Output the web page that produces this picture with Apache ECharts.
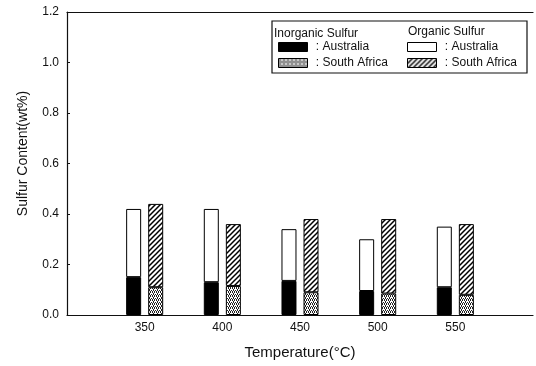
<!DOCTYPE html>
<html>
<head>
<meta charset="utf-8">
<script src="https://cdn.jsdelivr.net/npm/echarts@6/dist/echarts.min.js"></script>
<style>html,body{margin:0;padding:0;background:#fff}#c{width:536px;height:366px}</style>
</head>
<body>
<div id="c"></div>
<script>
// Data
const temperatures = ['350', '400', '450', '500', '550'];
const axisEnds = ['300', '600'];
const yTickLabels = ['0.0', '0.2', '0.4', '0.6', '0.8', '1.0', '1.2'];
const ausInorganic = [0.15, 0.13, 0.135, 0.095, 0.11];
const ausOrganic = [0.27, 0.29, 0.205, 0.205, 0.24];
const saInorganic = [0.11, 0.115, 0.09, 0.085, 0.08];
const saOrganic = [0.33, 0.245, 0.29, 0.295, 0.28];

function makePattern(kind) {
  const c = document.createElement('canvas');
  if (kind === 'hatch') {
    c.width = 5; c.height = 5;
    const g = c.getContext('2d');
    g.fillStyle = '#fff'; g.fillRect(0, 0, 5, 5);
    g.strokeStyle = '#000'; g.lineWidth = 1.5;
    g.beginPath();
    g.moveTo(-1, 6); g.lineTo(6, -1);
    g.moveTo(-1, 1); g.lineTo(1, -1);
    g.moveTo(4, 6); g.lineTo(6, 4);
    g.stroke();
  } else {
    c.width = 4; c.height = 4;
    const g = c.getContext('2d');
    g.fillStyle = '#fff'; g.fillRect(0, 0, 4, 4);
    g.fillStyle = '#222';
    [[0,0],[2,0],[1,1],[3,2],[1,2],[0,3],[2,3]].forEach(p => g.fillRect(p[0], p[1], 1, 1));
  }
  return { image: c, repeat: 'repeat' };
}
const hatch = makePattern('hatch');
const dots = makePattern('dots');

const FONT = "'Liberation Sans', Arial, sans-serif";
const axisCategories = [axisEnds[0]].concat(temperatures, [axisEnds[1]]);
const pair = arr => arr.map((v, i) => [temperatures[i], v]);

const chart = echarts.init(document.getElementById('c'), null, { renderer: 'canvas' });
chart.setOption({
  animation: false,
  backgroundColor: '#fff',
  textStyle: { fontFamily: FONT, color: '#111' },
  grid: { left: 67, right: 0, top: 12, bottom: 51 },
  xAxis: [{
    type: 'category', data: axisCategories, boundaryGap: false,
    name: 'Temperature(°C)', nameLocation: 'middle', nameGap: 30,
    nameTextStyle: { fontFamily: FONT, fontSize: 15, color: '#111' },
    axisLine: { lineStyle: { color: '#111', width: 1.2 } },
    axisTick: { show: false },
    splitLine: { show: false },
    axisLabel: {
      fontFamily: FONT, fontSize: 12, color: '#111', margin: 7, interval: 0,
      formatter: v => temperatures.indexOf(v) >= 0 ? v : ''
    }
  }, {
    type: 'category', data: axisCategories, boundaryGap: false, position: 'top',
    axisLine: { show: true, onZero: false, lineStyle: { color: '#111', width: 1.2 } },
    axisTick: { show: false }, axisLabel: { show: false }, splitLine: { show: false }
  }],
  yAxis: {
    type: 'value', min: 0, max: 1.2, interval: 0.2,
    name: 'Sulfur Content(wt%)', nameLocation: 'middle', nameGap: 37,
    nameTextStyle: { fontFamily: FONT, fontSize: 14, color: '#111', padding: [0, 0, 0, 20] },
    axisLine: { show: true, lineStyle: { color: '#111', width: 1.2 } },
    axisTick: { show: true, inside: true, length: 3, lineStyle: { color: '#111' } },
    splitLine: { show: false },
    axisLabel: {
      fontFamily: FONT, fontSize: 12, color: '#111', margin: 8,
      formatter: v => yTickLabels[Math.round(v / 0.2)]
    }
  },
  legend: [{
    left: 278, top: 40, orient: 'vertical', padding: 0, itemGap: 2,
    itemWidth: 29, itemHeight: 9, icon: 'rect',
    itemStyle: { borderColor: '#000', borderWidth: 1 },
    textStyle: { fontFamily: FONT, fontSize: 12, color: '#111', lineHeight: 14 },
    data: ['Inorganic Sulfur Australia', 'Inorganic Sulfur South Africa'],
    formatter: n => ' : ' + n.replace('Inorganic Sulfur ', '')
  }, {
    left: 407, top: 40, orient: 'vertical', padding: 0, itemGap: 2,
    itemWidth: 29, itemHeight: 9, icon: 'rect',
    itemStyle: { borderColor: '#000', borderWidth: 1 },
    textStyle: { fontFamily: FONT, fontSize: 12, color: '#111', lineHeight: 14 },
    data: ['Organic Sulfur Australia', 'Organic Sulfur South Africa'],
    formatter: n => ' : ' + n.replace('Organic Sulfur ', '')
  }],
  graphic: [
    { type: 'rect', z: -1, shape: { x: 272, y: 21, width: 255, height: 52 },
      style: { fill: '#fff', stroke: '#111', lineWidth: 1.2 } },
    { type: 'text', left: 274, top: 28,
      style: { text: 'Inorganic Sulfur', font: "12px 'Liberation Sans', Arial, sans-serif", fill: '#111' } },
    { type: 'text', left: 408, top: 26,
      style: { text: 'Organic Sulfur', font: "12px 'Liberation Sans', Arial, sans-serif", fill: '#111' } }
  ],
  series: [
    { name: 'Inorganic Sulfur Australia', type: 'bar', stack: 'aus', barWidth: 15, barGap: '47%',
      itemStyle: { color: '#000', borderColor: '#000', borderWidth: 1 }, data: pair(ausInorganic) },
    { name: 'Organic Sulfur Australia', type: 'bar', stack: 'aus', barWidth: 15, barGap: '47%',
      itemStyle: { color: '#fff', borderColor: '#000', borderWidth: 1 }, data: pair(ausOrganic) },
    { name: 'Inorganic Sulfur South Africa', type: 'bar', stack: 'sa', barWidth: 15, barGap: '47%',
      itemStyle: { color: dots, borderColor: '#000', borderWidth: 1 }, data: pair(saInorganic) },
    { name: 'Organic Sulfur South Africa', type: 'bar', stack: 'sa', barWidth: 15, barGap: '47%',
      itemStyle: { color: hatch, borderColor: '#000', borderWidth: 1 }, data: pair(saOrganic) }
  ]
});
</script>
</body>
</html>
